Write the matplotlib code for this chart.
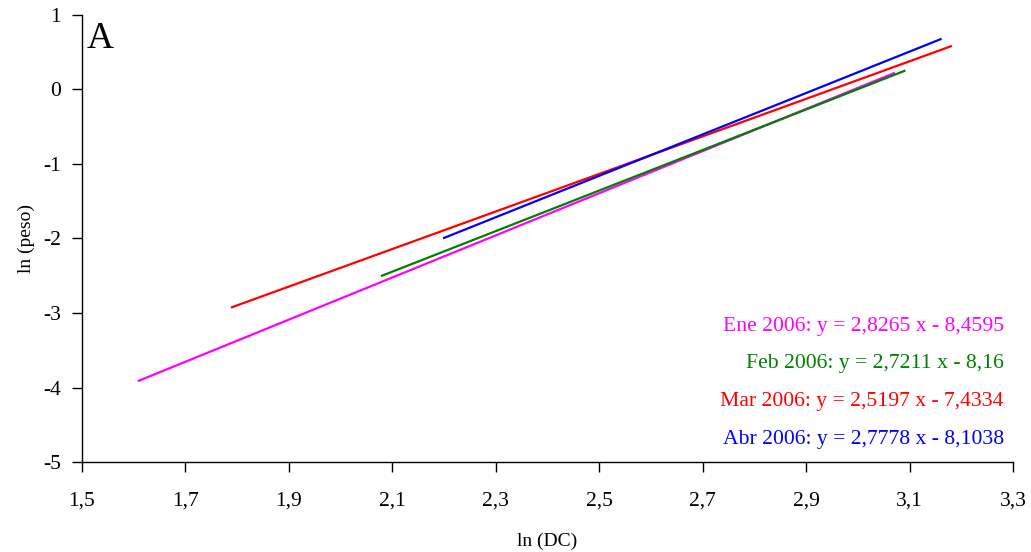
import matplotlib.pyplot as plt
from matplotlib.ticker import FuncFormatter

plt.rcParams['font.family'] = ['Liberation Serif', 'DejaVu Serif']

# regression lines: endpoints
series = ['Ene 2006', 'Feb 2006', 'Mar 2006', 'Abr 2006']
x_start = [1.61, 2.08, 1.79, 2.20]
x_end = [3.07, 3.09, 3.18, 3.16]
y_start = [-3.909, -2.500, -2.923, -1.993]
y_end = [0.218, 0.248, 0.579, 0.674]
equations = ['y = 2,8265 x - 8,4595', 'y = 2,7211 x - 8,16',
             'y = 2,5197 x - 7,4334', 'y = 2,7778 x - 8,1038']
colors = ['#FF00FF', '#008000', '#FF0000', '#0000FF']

x_ticks = [1.5, 1.7, 1.9, 2.1, 2.3, 2.5, 2.7, 2.9, 3.1, 3.3]
y_ticks = [-5, -4, -3, -2, -1, 0, 1]

fig = plt.figure(figsize=(10.31, 5.52), dpi=100)
ax = fig.add_axes([0.0795, 0.163, 0.903, 0.81])

for i in range(len(series)):
    ax.plot([x_start[i], x_end[i]], [y_start[i], y_end[i]], color=colors[i], lw=1.6)

ax.set_xlim(1.5, 3.3)
ax.set_ylim(-5, 1)
ax.set_xticks(x_ticks)
ax.set_yticks(y_ticks)
comma = FuncFormatter(lambda v, p: ('%.1f' % v).replace('.', ',') if abs(v - round(v)) > 1e-9 else '%d' % round(v))
ax.xaxis.set_major_formatter(comma)
ax.yaxis.set_major_formatter(comma)
ax.spines['top'].set_visible(False)
ax.spines['right'].set_visible(False)
for s in ['left', 'bottom']:
    ax.spines[s].set_linewidth(1.0)
ax.tick_params(direction='out', length=7, width=1.0, labelsize=15.5, pad=8)
ax.tick_params(axis='x', pad=14)

ax.set_xlabel('ln (DC)', fontsize=14, labelpad=16)
ax.set_ylabel('ln (peso)', fontsize=14, labelpad=6)

ax.text(0.005, 0.985, 'A', transform=ax.transAxes, fontsize=27, va='top', ha='left')

ypos = [0.303, 0.220, 0.135, 0.050]
for i in range(len(series)):
    ax.text(0.99, ypos[i], series[i] + ': ' + equations[i], transform=ax.transAxes,
            color=colors[i], fontsize=15.6, ha='right', va='center')

fig.savefig('out.png', dpi=100)
